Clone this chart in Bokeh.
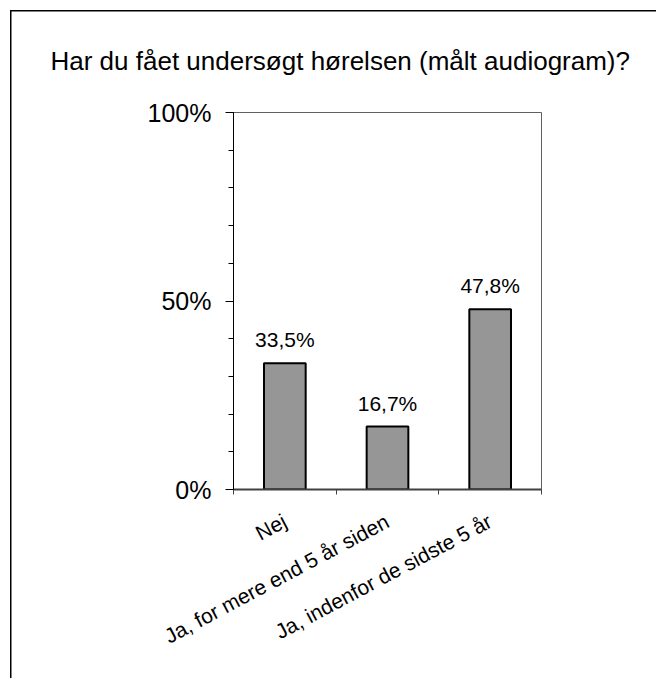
import math
from bokeh.plotting import figure
from bokeh.models import ColumnDataSource, FixedTicker, LabelSet, Range1d
from bokeh.core.properties import value
from bokeh.embed import file_html
from bokeh.resources import INLINE

# ---- data ----
categories = ["Nej", "Ja, for mere end 5 år siden", "Ja, indenfor de sidste 5 år"]
values = [33.5, 16.7, 47.8]
y_ticks = [0, 50, 100]
y_tick_labels = ["0%", "50%", "100%"]
y_minor_ticks = [0, 10, 20, 30, 40, 50, 60, 70, 80, 90, 100]
title_text = "Har du fået undersøgt hørelsen (målt audiogram)?"

FONT = "Liberation Sans"

xs = [i + 0.5 for i in range(len(categories))]
labels = [("%.1f" % v).replace(".", ",") + "%" for v in values]
source = ColumnDataSource(dict(x=xs, val=values, lbl=labels))

p = figure(width=656, height=678, output_backend="svg", toolbar_location=None,
           x_range=Range1d(0, len(categories)), y_range=Range1d(0, 100),
           min_border_left=233, min_border_right=115, min_border_top=112, min_border_bottom=189)

p.background_fill_color = "white"
p.border_fill_color = None
p.outline_line_color = "#606060"
p.outline_line_width = 1
p.xgrid.visible = False
p.ygrid.visible = False

# outer chart border: left and top edges only (right/bottom fall outside the view)
p.styles = {
    "background": "linear-gradient(#000, #000) 10px 10px / 1.5px 100% no-repeat, "
                  "linear-gradient(#000, #000) 10px 10px / 100% 1.5px no-repeat, #fff",
}

p.vbar(x="x", top="val", width=0.406, source=source,
       fill_color="#969696", line_color="black", line_width=2)

p.add_layout(LabelSet(x="x", y="val", text="lbl", source=source,
                      text_align="center", text_baseline="alphabetic", y_offset=16,
                      text_font=value(FONT), text_font_size=value("21px"), text_color="black"))

# y axis
ya = p.yaxis[0]
ya.ticker = FixedTicker(ticks=y_ticks, minor_ticks=y_minor_ticks)
ya.major_label_overrides = {t: l for t, l in zip(y_ticks, y_tick_labels)}
ya.axis_line_color = "black"
ya.axis_line_width = 1
ya.major_tick_line_color = "black"
ya.major_tick_in = 0
ya.major_tick_out = 8
ya.minor_tick_line_color = "black"
ya.minor_tick_in = 0
ya.minor_tick_out = 5
ya.major_label_text_font = FONT
ya.major_label_text_font_size = "25px"
ya.major_label_text_color = "black"
ya.major_label_standoff = 14

# x axis
xa = p.xaxis[0]
xa.ticker = FixedTicker(ticks=xs, minor_ticks=list(range(len(categories) + 1)))
xa.major_label_overrides = {x: c for x, c in zip(xs, categories)}
xa.axis_line_color = "#404040"
xa.axis_line_width = 2
xa.major_tick_line_color = None
xa.major_tick_in = 0
xa.major_tick_out = 0
xa.minor_tick_line_color = "#404040"
xa.minor_tick_in = 0
xa.minor_tick_out = 5
xa.major_label_orientation = math.radians(28)
xa.major_label_text_font = FONT
xa.major_label_text_font_size = "21px"
xa.major_label_text_color = "black"
xa.major_label_standoff = 25

# title
p.title.text = title_text
p.title.text_font = FONT
p.title.text_font_size = "26px"
p.title.text_font_style = "normal"
p.title.text_color = "black"
p.title.align = "left"
p.title.offset = -183
p.title.standoff = 74

open("out.html", "w").write(file_html(p, INLINE))
